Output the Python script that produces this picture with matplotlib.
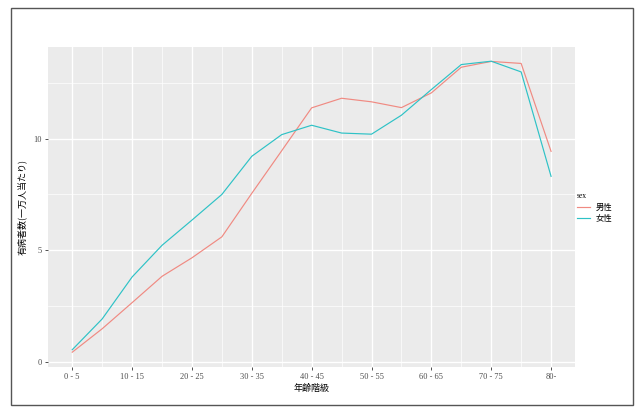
import numpy as np
import matplotlib
matplotlib.use('Agg')
import matplotlib.pyplot as plt
from matplotlib.patches import Rectangle

# age groups (0-5 ... 80-)
age_labels = ['0 - 5', '5 - 10', '10 - 15', '15 - 20', '20 - 25', '25 - 30',
              '30 - 35', '35 - 40', '40 - 45', '45 - 50', '50 - 55', '55 - 60',
              '60 - 65', '65 - 70', '70 - 75', '75 - 80', '80-']
male = [0.43, 1.48, 2.65, 3.83, 4.66, 5.60, 7.55, 9.46, 11.38, 11.81, 11.65,
        11.39, 12.05, 13.20, 13.46, 13.37, 9.43]
female = [0.54, 1.92, 3.80, 5.22, 6.35, 7.50, 9.21, 10.18, 10.60, 10.25, 10.20,
          11.05, 12.20, 13.32, 13.47, 12.99, 8.31]
sex_labels = ['男性', '女性']
y_ticks = [0, 5, 10]

jp = ['Noto Sans CJK JP', 'DejaVu Sans']
serif = 'Liberation Serif'

fig = plt.figure(figsize=(6.42, 4.07), dpi=100)
fig.patch.set_facecolor('white')

# outer frame
fig.patches.append(Rectangle((11.3/642, 2/407), (633.3-11.3)/642, (405-7.3)/407*0.998,
                             transform=fig.transFigure, fill=False,
                             edgecolor='#555555', lw=1.0))

ax = fig.add_axes([48.3/642, 1-366.7/407, (575-48.3)/642, (366.7-46.7)/407])
ax.set_facecolor('#EBEBEB')
x = np.arange(len(age_labels))

ax.plot(x, male, color='#F08A82', lw=0.85, label=sex_labels[0])
ax.plot(x, female, color='#2EC2C6', lw=0.85, label=sex_labels[1])

ax.set_xlim(-0.8, 16.8)
ax.set_ylim(-0.22, 14.12)

ax.set_xticks(x[::2])
ax.set_xticklabels(age_labels[::2], fontfamily=serif, fontsize=6, color='#4D4D4D')
ax.set_xticks(x[1::2], minor=True)
ax.set_yticks(y_ticks)
ax.set_yticklabels([str(v) for v in y_ticks], fontfamily=serif, fontsize=6, color='#4D4D4D')
ax.set_yticks([2.5, 7.5, 12.5], minor=True)

ax.grid(which='major', color='white', lw=1.0)
ax.grid(which='minor', color='white', lw=0.5)
ax.set_axisbelow(True)
ax.tick_params(which='major', length=2.5, width=0.6, color='#333333', pad=2)
ax.tick_params(which='minor', length=0)
for s in ax.spines.values():
    s.set_visible(False)

ax.set_xlabel('年齢階級', family=jp, fontsize=6.5, labelpad=2)
ax.set_ylabel('有病者数(一万人当たり)', family=jp, fontsize=6.5, labelpad=5)

leg = fig.legend(loc='upper left', bbox_to_anchor=(577/642, 1-192/407),
                 title='sex', frameon=False, prop={'family': jp, 'size': 6},
                 handlelength=1.6, handletextpad=0.6, labelspacing=0.3,
                 borderaxespad=0, borderpad=0)
leg.get_title().set_fontsize(5.5)
leg.get_title().set_fontfamily(serif)
leg._legend_box.align = 'left'
leg.set_zorder(5)

fig.savefig('out.png', dpi=100)
